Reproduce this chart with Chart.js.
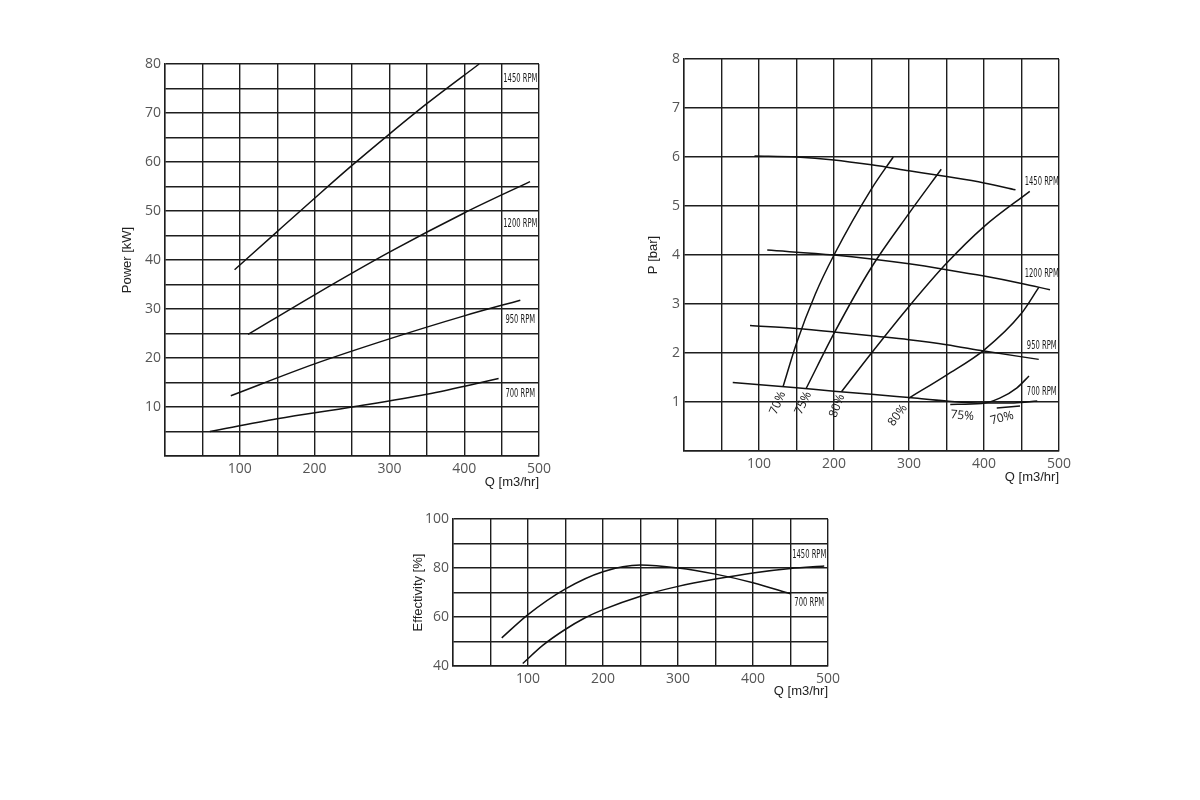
<!DOCTYPE html>
<html>
<head>
<meta charset="utf-8">
<script src="https://cdn.jsdelivr.net/npm/chart.js@4.4.1/dist/chart.umd.min.js"></script>
<style>
body{margin:0;background:#fff;width:1200px;height:800px;position:relative;overflow:hidden}
canvas{position:absolute}
</style>
</head>
<body>
<canvas id="power" width="480" height="470" style="left:80px;top:40px"></canvas>
<canvas id="pressure" width="480" height="470" style="left:600px;top:30px"></canvas>
<canvas id="effect" width="480" height="220" style="left:370px;top:500px"></canvas>
<script>
// power [kW] vs Q
var qKw1450 = [93, 150, 200, 250, 300, 350, 420];
var kw1450  = [38, 45.8, 52.6, 59.3, 65.7, 71.9, 80];
var qKw1200 = [111, 200, 300, 400, 488];
var kw1200  = [24.8, 32.9, 41.6, 49.6, 56];
var qKw950  = [88, 200, 300, 400, 475];
var kw950   = [12.3, 18.8, 23.9, 28.6, 31.8];
var qKw700  = [60, 150, 250, 350, 446];
var kw700   = [5, 7.6, 10, 12.6, 15.8];

// pressure [bar] vs Q
var qBar1450 = [94, 150, 200, 250, 300, 350, 400, 442];
var bar1450  = [6.02, 6.0, 5.94, 5.84, 5.72, 5.6, 5.47, 5.33];
var qBar1200 = [111, 200, 250, 300, 350, 400, 450, 488];
var bar1200  = [4.1, 4.0, 3.92, 3.82, 3.7, 3.57, 3.42, 3.29];
var qBar950  = [88, 150, 200, 250, 300, 350, 400, 473];
var bar950   = [2.56, 2.5, 2.43, 2.35, 2.27, 2.17, 2.04, 1.87];
var qBar700  = [65, 150, 200, 250, 300, 350, 400, 440, 471];
var bar700   = [1.4, 1.29, 1.22, 1.16, 1.09, 1.02, 0.98, 0.98, 1.02];

// iso efficiency lines
var qEff70a = [132, 150, 175, 200, 250, 279];
var pEff70a = [1.31, 2.2, 3.2, 4.0, 5.35, 6.0];
var qEff75a = [163, 200, 250, 300, 343];
var pEff75a = [1.28, 2.4, 3.75, 4.85, 5.75];
var qEff80a = [210, 250, 300, 350, 400, 461];
var pEff80a = [1.21, 2.0, 2.95, 3.83, 4.58, 5.3];
var qEff80b = [300, 350, 400, 450, 473];
var pEff80b = [1.08, 1.55, 2.06, 2.81, 3.34];
var qEff75b = [355, 397, 421, 444, 460];
var pEff75b = [0.95, 0.97, 1.08, 1.29, 1.53];
var qEff70b = [417, 448];
var pEff70b = [0.88, 0.92];

// effectivity [%] vs Q
var qEffA = [65, 100, 150, 200, 250, 300, 350, 400, 450];
var effA  = [51.5, 61, 71.5, 78.5, 81.2, 80, 77.5, 74, 69.5];
var qEffB = [93, 120, 150, 175, 200, 250, 300, 350, 400, 450, 495];
var effB  = [41, 48.5, 55, 59.5, 63, 68.5, 72.5, 75.5, 78, 79.8, 80.8];

var rpmNames = ['1450 RPM', '1200 RPM', '950 RPM', '700 RPM'];

function pts(xs, ys) {
  var out = [];
  for (var i = 0; i < xs.length; i++) out.push({x: xs[i], y: ys[i]});
  return out;
}

function curve(xs, ys) {
  return {
    data: pts(xs, ys),
    showLine: true,
    pointRadius: 0,
    borderColor: '#111',
    borderWidth: 1.5,
    cubicInterpolationMode: 'monotone',
    clip: false
  };
}

var rpmFont = '13px "Liberation Sans Narrow", "DejaVu Sans Condensed", sans-serif';
var pctFont = '12px "Open Sans", sans-serif';

var curveLabels = {
  id: 'curveLabels',
  afterDatasetsDraw: function(chart, args, opts) {
    var ctx = chart.ctx, xs = chart.scales.x, ys = chart.scales.y;
    (opts.items || []).forEach(function(it) {
      ctx.save();
      ctx.translate(xs.getPixelForValue(it.x), ys.getPixelForValue(it.y));
      ctx.rotate((it.rot || 0) * Math.PI / 180);
      ctx.scale(it.sx || 1, 1);
      ctx.font = it.font;
      ctx.fillStyle = '#1a1a1a';
      ctx.textAlign = 'center';
      ctx.textBaseline = 'middle';
      ctx.fillText(it.text, 0, 0);
      ctx.restore();
    });
  }
};

function makeChart(id, datasets, y, pad, yWidth, xHeight, items) {
  var gridCol = '#1e1e1e';
  return new Chart(document.getElementById(id), {
    type: 'scatter',
    data: {datasets: datasets},
    plugins: [curveLabels],
    options: {
      responsive: false,
      animation: false,
      layout: {padding: pad},
      plugins: {
        legend: {display: false},
        tooltip: {enabled: false},
        curveLabels: {items: items}
      },
      scales: {
        x: {
          min: 0, max: 500,
          afterFit: function(s) { s.height = xHeight; },
          grid: {color: gridCol, lineWidth: 1.4, drawTicks: false},
          border: {color: gridCol, width: 1.4},
          ticks: {
            stepSize: 50, autoSkip: false, maxRotation: 0, padding: 5,
            color: '#555', font: {family: 'Open Sans', size: 14},
            callback: function(v) { return (v % 100 === 0 && v > 0) ? v : ''; }
          },
          title: {display: true, text: 'Q [m3/hr]', align: 'end', color: '#222',
                  font: {family: 'Liberation Sans', size: 13}}
        },
        y: {
          min: y.min, max: y.max,
          afterFit: function(s) { s.width = yWidth; },
          grid: {color: gridCol, lineWidth: 1.4, drawTicks: false},
          border: {color: gridCol, width: 1.4},
          ticks: {
            stepSize: y.step, autoSkip: false, padding: 4,
            color: '#555', font: {family: 'Open Sans', size: 14},
            callback: function(v) { return (v % y.every === 0 && v > y.hide) ? v : ''; }
          },
          title: {display: true, text: y.title, color: '#222',
                  font: {family: 'Liberation Sans', size: 13}}
        }
      }
    }
  });
}

makeChart('power',
  [curve(qKw1450, kw1450), curve(qKw1200, kw1200), curve(qKw950, kw950), curve(qKw700, kw700)],
  {min: 0, max: 80, step: 5, every: 10, hide: 0, title: 'Power [kW]'},
  {left: 36, top: 24, right: 21, bottom: 16}, 49, 38,
  [
    {x: 475, y: 77.1, text: rpmNames[0], font: rpmFont, sx: 0.58},
    {x: 475, y: 47.5, text: rpmNames[1], font: rpmFont, sx: 0.58},
    {x: 475, y: 27.9, text: rpmNames[2], font: rpmFont, sx: 0.58},
    {x: 475, y: 12.8, text: rpmNames[3], font: rpmFont, sx: 0.58}
  ]);

makeChart('pressure',
  [curve(qBar1450, bar1450), curve(qBar1200, bar1200), curve(qBar950, bar950), curve(qBar700, bar700),
   curve(qEff70a, pEff70a), curve(qEff75a, pEff75a), curve(qEff80a, pEff80a),
   curve(qEff80b, pEff80b), curve(qEff75b, pEff75b), curve(qEff70b, pEff70b)],
  {min: 0, max: 8, step: 1, every: 1, hide: 0, title: 'P [bar]'},
  {left: 42, top: 29, right: 21, bottom: 11}, 42, 38,
  [
    {x: 477, y: 5.49, text: rpmNames[0], font: rpmFont, sx: 0.58},
    {x: 477, y: 3.61, text: rpmNames[1], font: rpmFont, sx: 0.58},
    {x: 477, y: 2.16, text: rpmNames[2], font: rpmFont, sx: 0.58},
    {x: 477, y: 1.22, text: rpmNames[3], font: rpmFont, sx: 0.58},
    {x: 125, y: 0.98, text: '70%', font: pctFont, rot: -67},
    {x: 159, y: 0.98, text: '75%', font: pctFont, rot: -65},
    {x: 204, y: 0.92, text: '80%', font: pctFont, rot: -69},
    {x: 285, y: 0.73, text: '80%', font: pctFont, rot: -54},
    {x: 371, y: 0.72, text: '75%', font: pctFont, rot: 5},
    {x: 424, y: 0.67, text: '70%', font: pctFont, rot: -15}
  ]);

makeChart('effect',
  [curve(qEffA, effA), curve(qEffB, effB)],
  {min: 40, max: 100, step: 10, every: 20, hide: 0, title: 'Effectivity [%]'},
  {left: 37, top: 19, right: 22, bottom: 17}, 46, 37,
  [
    {x: 475, y: 85.3, text: rpmNames[0], font: rpmFont, sx: 0.58},
    {x: 475, y: 66, text: rpmNames[3], font: rpmFont, sx: 0.58}
  ]);
</script>
</body>
</html>
